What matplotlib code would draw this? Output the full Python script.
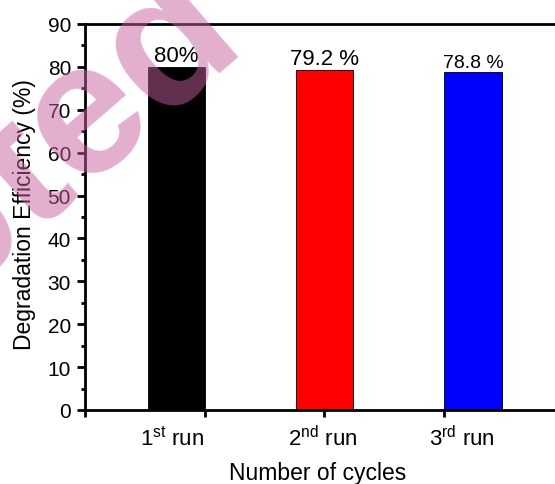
import matplotlib
matplotlib.use("Agg")
import matplotlib.pyplot as plt
from matplotlib.ticker import MultipleLocator

plt.rcParams['font.family'] = ['Liberation Sans', 'DejaVu Sans']
plt.rcParams['mathtext.fontset'] = 'custom'
plt.rcParams['mathtext.rm'] = 'Liberation Sans'
plt.rcParams['mathtext.it'] = 'Liberation Sans'

runs = ['1$^{\\rm st}$ run', '2$^{\\rm nd}$ run', '3$^{\\rm rd}$ run']
efficiency = [80.0, 79.2, 78.8]
value_labels = ['80%', '79.2 %', '78.8 %']
bar_colors = ['#000000', '#ff0000', '#0000ff']

fig = plt.figure(figsize=(5.55, 4.85), dpi=100)
ax = fig.add_axes([0.153, 0.1526, 0.905, 0.7959])

step = 1.24
bar_pos = [0.765 + i * step for i in range(len(runs))]
label_pos = [0.73, 1.99, 3.15]

ax.bar(bar_pos, efficiency, width=0.48, color=bar_colors,
       edgecolor='black', linewidth=0.6, zorder=2)

label_sizes = [16, 16, 14]
for x, v, t, s in zip(bar_pos, efficiency, value_labels, label_sizes):
    ax.text(x, v + 0.3, t, ha='center', va='bottom', fontsize=s)

ax.set_xlim(0, 4.2)
ax.set_ylim(0, 90)
ax.yaxis.set_major_locator(MultipleLocator(10))
ax.yaxis.set_minor_locator(MultipleLocator(5))
ax.set_xticks([0, 1, 2, 3, 4])
ax.set_xticklabels([])
ax.set_xticks(label_pos, minor=True)
ax.set_xticklabels(runs, minor=True)
ax.tick_params(axis='x', which='minor', length=0, pad=11, labelsize=16)
ax.tick_params(axis='x', which='major', length=5, width=2, direction='out')
ax.tick_params(axis='y', which='major', length=6, width=2, direction='out',
               labelsize=15, pad=4)
ax.tick_params(axis='y', which='minor', length=3, width=2, direction='out')

for side in ['left', 'bottom', 'top']:
    ax.spines[side].set_linewidth(2)
ax.spines['right'].set_visible(False)

ax.set_xlabel('Number of cycles', fontsize=16.5)
ax.xaxis.set_label_coords(0.464, -0.132)
ax.set_ylabel('Degradation Efficiency (%)', fontsize=16.5)
ax.yaxis.set_label_coords(-0.098, 0.51)

fig.text(0.447, 0.907, 'Accepted', fontsize=137, fontweight='bold',
         rotation=41, ha='right', va='baseline', rotation_mode='anchor',
         color=(200 / 255, 96 / 255, 160 / 255), alpha=0.5, zorder=10)

fig.savefig('out.png', dpi=100)
